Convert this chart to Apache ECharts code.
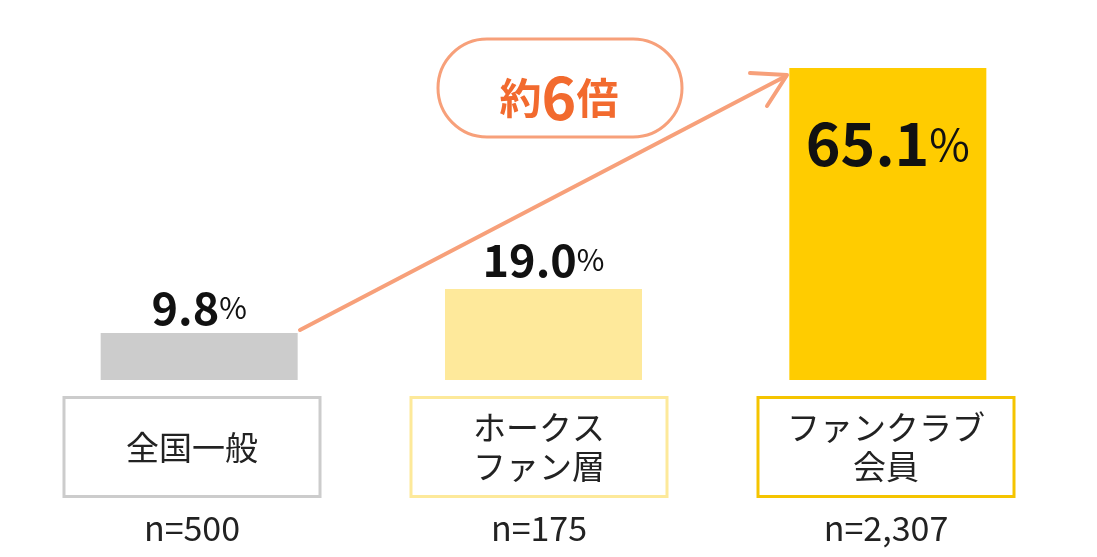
<!DOCTYPE html>
<html><head><meta charset="utf-8">
<script src="https://cdn.jsdelivr.net/npm/echarts@6/dist/echarts.min.js"></script>
<style>html,body{margin:0;padding:0;background:#fff}#c{width:1097px;height:557px}</style>
</head><body><div id="c"></div>
<script>
var categories = ['全国一般', 'ホークス\nファン層', 'ファンクラブ\n会員'];
var values = [9.8, 19.0, 65.1];
var sampleLabels = ['n=500', 'n=175', 'n=2,307'];
var barColors = ['#cccccc', '#fee99b', '#ffcc00'];
var boxColors = ['#cccccc', '#fde99a', '#f5c400'];
var ratioLabel = ['約', '6', '倍'];

var FONT = '"Noto Sans CJK JP", "Noto Sans", sans-serif';
var chart = echarts.init(document.getElementById('c'));

var catData = categories.map(function (c, i) {
  return {
    value: c,
    textStyle: {
      borderColor: boxColors[i], borderWidth: 3,
      width: 253, height: 96, padding: 0,
      align: 'center', verticalAlign: 'middle',
      lineHeight: 39, backgroundColor: '#fff'
    }
  };
});

var barData = values.map(function (v, i) {
  var inside = i === 2;
  return {
    value: v,
    itemStyle: { color: barColors[i] },
    label: inside ? {
      position: 'insideTop', distance: 46,
      formatter: function (p) { return '{v|' + p.value.toFixed(1) + '}{p|%}'; },
      rich: {
        v: { fontSize: 59, fontWeight: 'bold', color: '#111', fontFamily: FONT, lineHeight: 60 },
        p: { fontSize: 44, fontWeight: 'normal', color: '#111', fontFamily: FONT, lineHeight: 60 }
      }
    } : {
      position: 'top', distance: i === 0 ? 2 : 6,
      formatter: function (p) { return '{v|' + p.value.toFixed(1) + '}{p|%}'; },
      rich: {
        v: { fontSize: 45, fontWeight: 'bold', color: '#111', fontFamily: FONT, lineHeight: 46 },
        p: { fontSize: 30, fontWeight: 'normal', color: '#111', fontFamily: FONT, lineHeight: 46 }
      }
    }
  };
});

chart.setOption({
  animation: false,
  textStyle: { fontFamily: FONT },
  grid: [
    { left: 27, right: 37, top: 44.5, bottom: 177 },
    { left: 18.5, right: 37.5, top: 44.5, bottom: 177 }
  ],
  xAxis: [{
    type: 'category', gridIndex: 0, data: categories.map(function (c) { return c; }),
    position: 'bottom', axisLine: { show: false }, axisTick: { show: false },
    axisLabel: { show: false }
  }, {
    type: 'category', gridIndex: 1, data: catData, position: 'bottom',
    axisLine: { show: false }, axisTick: { show: false },
    axisLabel: { interval: 0, margin: 67, fontSize: 33, color: '#222', fontFamily: FONT, lineHeight: 39 }
  }, {
    type: 'category', gridIndex: 1, data: sampleLabels, position: 'bottom',
    axisLine: { show: false }, axisTick: { show: false },
    axisLabel: { interval: 0, margin: 131, fontSize: 34, color: '#222', fontFamily: FONT }
  }],
  yAxis: [
    { type: 'value', gridIndex: 0, min: 0, max: 70, show: false },
    { type: 'value', gridIndex: 1, min: 0, max: 70, show: false }
  ],
  series: [{
    type: 'bar', xAxisIndex: 0, yAxisIndex: 0, barWidth: 197, data: barData, label: { show: true }, z: 2
  }],
  graphic: [
    { type: 'line', shape: { x1: 300, y1: 330, x2: 786, y2: 76 },
      style: { stroke: '#f7a07a', lineWidth: 4, lineCap: 'round' }, z: 10 },
    { type: 'polyline', shape: { points: [[750, 73], [787, 75], [767, 106]] },
      style: { stroke: '#f7a07a', lineWidth: 4, lineCap: 'round', lineJoin: 'round', fill: null }, z: 10 },
    { type: 'rect', shape: { x: 438, y: 39, width: 244, height: 98, r: 49 },
      style: { stroke: '#f7a07a', lineWidth: 3, fill: '#fff' }, z: 10 },
    { type: 'text', x: 559, y: 98, z: 11,
      style: {
        text: '{a|' + ratioLabel[0] + '}{b|' + ratioLabel[1] + '}{a|' + ratioLabel[2] + '}',
        align: 'center', verticalAlign: 'middle',
        rich: {
          a: { fontSize: 42, fontWeight: 'bold', fill: '#f26a2e', fontFamily: FONT, lineHeight: 60 },
          b: { fontSize: 59, fontWeight: 'bold', fill: '#f26a2e', fontFamily: FONT, lineHeight: 60 }
        }
      } }
  ]
});
</script></body></html>
